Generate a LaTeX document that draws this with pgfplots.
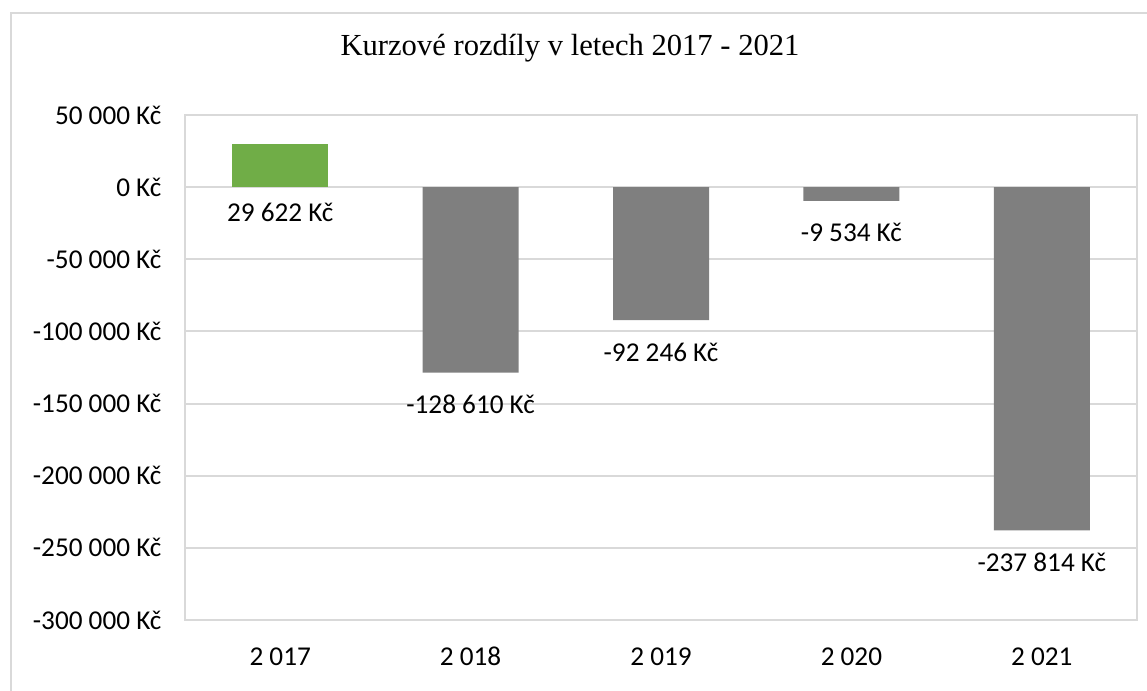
\documentclass[border=0pt]{standalone}
\usepackage{fontspec}
\setmainfont{Carlito}
\newfontfamily\titlefont{Liberation Serif}
\usepackage{pgfplots}
\pgfplotsset{compat=1.18}
\definecolor{gridgray}{HTML}{D9D9D9}
\definecolor{posgreen}{HTML}{70AD47}
\definecolor{neggray}{HTML}{7F7F7F}
\newcommand{\lblfont}{\fontsize{13.6pt}{16pt}\selectfont}
\begin{document}
\begin{tikzpicture}
\useasboundingbox (0pt,0pt) rectangle (573.5pt,345.5pt);
\draw[gridgray, line width=1.2pt] (5.5pt,-20pt) -- (5.5pt,339pt) -- (600pt,339pt);
\node[anchor=base, font=\titlefont\fontsize{15.3pt}{18pt}\selectfont] at (285pt,317.5pt) {Kurzové rozdíly v letech 2017 - 2021};
\begin{axis}[
  at={(92.5pt,35.5pt)}, anchor=south west,
  scale only axis, width=476pt, height=252.5pt,
  xmin=-0.5, xmax=4.5, ymin=-300000, ymax=50000,
  ybar, bar width=48pt,
  axis line style={gridgray, line width=1pt},
  ytick={-300000,-250000,-200000,-150000,-100000,-50000,0,50000},
  ymajorgrids, grid style={gridgray, line width=1pt},
  xtick={0,1,2,3,4},
  xticklabels={2 017,2 018,2 019,2 020,2 021},
  major tick length=0pt,
  tick style={draw=none},
  scaled y ticks=false,
  font=\lblfont,
  ticklabel style={font=\lblfont, text=black},
  yticklabel={\pgfmathprintnumber{\tick}~Kč},
  yticklabel style={xshift=-8.3pt},
  xticklabel style={anchor=base, yshift=-23pt},
  /pgf/number format/fixed,
  /pgf/number format/precision=0,
  /pgf/number format/1000 sep={\ },
  /pgf/number format/assume math mode=true,
  clip=false,
]
\addplot[fill=posgreen, draw=none, bar shift=0pt] coordinates {(0,29622)};
\addplot[fill=neggray, draw=none, bar shift=0pt,
  nodes near coords={\pgfmathprintnumber{\pgfplotspointmeta}~Kč},
  every node near coord/.append style={anchor=center, yshift=-16pt, text=black, font=\lblfont}]
  coordinates {(1,-128610) (2,-92246) (3,-9534) (4,-237814)};
\addplot[draw=none, fill=none, bar shift=0pt, forget plot,
  point meta=explicit,
  nodes near coords={\pgfmathprintnumber{\pgfplotspointmeta}~Kč},
  every node near coord/.append style={anchor=center, yshift=-12.5pt, text=black, font=\lblfont}]
  coordinates {(0,0) [29622]};
\draw[gridgray, line width=1pt]
  (axis cs:-0.5,0) ++(0,-4pt) -- ++(0,8pt)
  (axis cs:0.5,0) ++(0,-4pt) -- ++(0,8pt)
  (axis cs:1.5,0) ++(0,-4pt) -- ++(0,8pt)
  (axis cs:2.5,0) ++(0,-4pt) -- ++(0,8pt)
  (axis cs:3.5,0) ++(0,-4pt) -- ++(0,8pt)
  (axis cs:4.5,0) ++(0,-4pt) -- ++(0,8pt);
\end{axis}
\end{tikzpicture}
\end{document}
